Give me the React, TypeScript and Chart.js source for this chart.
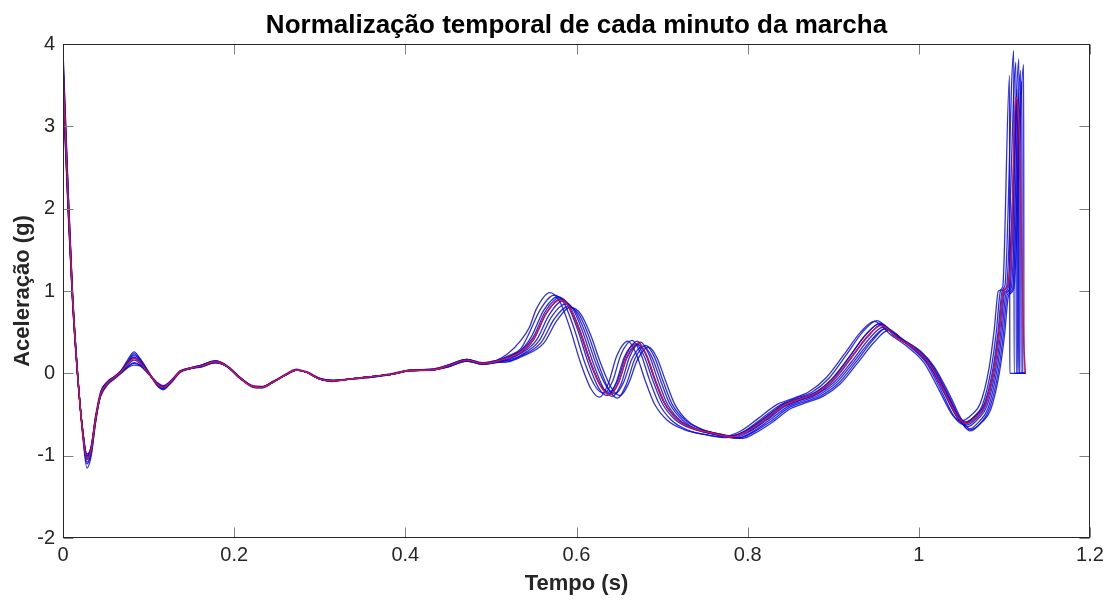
import { useEffect, useRef } from "react";
import { Chart, registerables } from "chart.js";

Chart.register(...registerables);

// Shared time base (s) for the first half of the stride, where all minutes nearly overlap
const tempoInicio = [
  0, 0.006, 0.011, 0.017, 0.023, 0.028, 0.033, 0.038, 0.044, 0.052, 0.06, 0.068, 0.076, 0.083,
  0.09, 0.1, 0.11, 0.117, 0.126, 0.137, 0.15, 0.162, 0.178, 0.192, 0.208, 0.222, 0.232, 0.245,
  0.26, 0.273, 0.285, 0.3, 0.315, 0.335, 0.36, 0.385, 0.405, 0.43, 0.45, 0.472, 0.49, 0.505,
];

// Acceleration (g) of each minute on tempoInicio
const inicioMinuto1 = [3.88, 2.2, 1.0, 0.02, -0.72, -1.08, -0.95, -0.58, -0.24, -0.1, -0.04, 0.04, 0.17, 0.26, 0.18, 0.02, -0.14, -0.19, -0.12, 0.01, 0.06, 0.1, 0.15, 0.09, -0.06, -0.16, -0.17, -0.11, -0.02, 0.04, 0.01, -0.07, -0.09, -0.07, -0.04, -0.01, 0.04, 0.04, 0.1, 0.17, 0.12, 0.15];
const inicioMinuto2 = [3.92, 2.25, 1.02, 0.0, -0.75, -1.15, -1.0, -0.6, -0.26, -0.11, -0.05, 0.03, 0.15, 0.24, 0.17, 0.01, -0.15, -0.2, -0.11, 0.02, 0.07, 0.1, 0.15, 0.08, -0.07, -0.17, -0.18, -0.11, -0.01, 0.05, 0.01, -0.07, -0.1, -0.07, -0.04, 0.0, 0.04, 0.05, 0.1, 0.17, 0.13, 0.15];
const inicioMinuto3 = [3.6, 2.05, 0.93, -0.02, -0.7, -1.0, -0.88, -0.52, -0.22, -0.11, -0.04, 0.02, 0.11, 0.16, 0.12, 0.0, -0.12, -0.16, -0.1, 0.02, 0.06, 0.09, 0.13, 0.08, -0.07, -0.16, -0.17, -0.1, -0.02, 0.04, 0.01, -0.07, -0.09, -0.07, -0.05, -0.01, 0.03, 0.04, 0.09, 0.16, 0.12, 0.14];
const inicioMinuto4 = [3.45, 1.95, 0.9, -0.03, -0.68, -0.98, -0.9, -0.56, -0.27, -0.13, -0.06, 0.01, 0.09, 0.13, 0.1, -0.01, -0.12, -0.16, -0.09, 0.03, 0.06, 0.08, 0.13, 0.08, -0.07, -0.16, -0.17, -0.11, -0.02, 0.04, 0.01, -0.06, -0.09, -0.07, -0.04, -0.01, 0.03, 0.04, 0.08, 0.15, 0.11, 0.13];
const inicioMinuto5 = [3.75, 2.15, 0.97, 0.01, -0.71, -1.05, -0.93, -0.57, -0.25, -0.12, -0.05, 0.02, 0.13, 0.2, 0.14, 0.01, -0.13, -0.18, -0.1, 0.02, 0.06, 0.09, 0.14, 0.08, -0.07, -0.16, -0.17, -0.11, -0.02, 0.04, 0.01, -0.07, -0.09, -0.07, -0.04, -0.01, 0.035, 0.04, 0.09, 0.16, 0.12, 0.14];
const inicioMinuto6 = [3.5, 2.0, 0.9, -0.02, -0.69, -1.0, -0.89, -0.54, -0.28, -0.14, -0.07, 0.0, 0.07, 0.1, 0.09, 0.0, -0.11, -0.15, -0.09, 0.03, 0.07, 0.09, 0.13, 0.08, -0.06, -0.15, -0.16, -0.1, -0.02, 0.04, 0.01, -0.06, -0.08, -0.07, -0.04, -0.01, 0.03, 0.04, 0.08, 0.15, 0.11, 0.13];
const inicioMinuto7 = [3.8, 2.18, 0.98, 0.0, -0.73, -1.1, -0.97, -0.6, -0.24, -0.1, -0.04, 0.03, 0.14, 0.22, 0.16, 0.01, -0.14, -0.19, -0.11, 0.02, 0.07, 0.1, 0.15, 0.09, -0.06, -0.16, -0.17, -0.11, -0.02, 0.04, 0.02, -0.06, -0.09, -0.07, -0.04, -0.01, 0.04, 0.05, 0.1, 0.17, 0.12, 0.15];
const inicioMinuto8 = [3.55, 2.02, 0.92, -0.03, -0.69, -1.01, -0.9, -0.55, -0.26, -0.13, -0.06, 0.01, 0.08, 0.12, 0.1, -0.01, -0.12, -0.16, -0.1, 0.02, 0.06, 0.08, 0.13, 0.08, -0.07, -0.16, -0.17, -0.1, -0.02, 0.04, 0.01, -0.07, -0.09, -0.07, -0.05, -0.01, 0.03, 0.04, 0.08, 0.15, 0.11, 0.13];
const inicioMinuto9 = [3.65, 2.08, 0.95, 0.0, -0.7, -1.03, -0.91, -0.55, -0.25, -0.12, -0.05, 0.02, 0.12, 0.19, 0.13, 0.0, -0.13, -0.17, -0.1, 0.02, 0.06, 0.09, 0.14, 0.08, -0.07, -0.16, -0.17, -0.11, -0.02, 0.04, 0.01, -0.07, -0.09, -0.07, -0.04, -0.01, 0.035, 0.04, 0.09, 0.16, 0.12, 0.14];
const inicioMedia = [3.68, 2.1, 0.96, -0.01, -0.71, -1.04, -0.92, -0.56, -0.25, -0.12, -0.05, 0.02, 0.12, 0.18, 0.13, 0.0, -0.13, -0.17, -0.1, 0.02, 0.065, 0.09, 0.14, 0.08, -0.07, -0.16, -0.17, -0.11, -0.02, 0.04, 0.01, -0.07, -0.09, -0.07, -0.04, -0.01, 0.035, 0.04, 0.09, 0.16, 0.12, 0.14];

// Second half of the stride: [time (s), acceleration (g)], each minute with its own timing,
// ending with the next heel strike and zero padding
const fimMinuto1: [number, number][] = [
  [0.52, 0.24], [0.535, 0.4], [0.545, 0.56], [0.553, 0.78], [0.569, 0.98], [0.581, 0.86], [0.592, 0.56], [0.605, 0.12], [0.617, -0.19], [0.627, -0.29], [0.637, -0.13], [0.647, 0.21], [0.66, 0.39], [0.67, 0.23], [0.68, -0.08], [0.691, -0.37], [0.706, -0.57], [0.725, -0.68], [0.748, -0.74], [0.77, -0.77],
  [0.792, -0.7], [0.812, -0.55], [0.834, -0.38], [0.854, -0.3], [0.872, -0.22], [0.892, -0.05], [0.912, 0.22], [0.932, 0.5], [0.948, 0.63], [0.967, 0.47], [0.987, 0.32],
  [1.006, 0.13], [1.024, -0.21], [1.039, -0.5], [1.049, -0.58], [1.062, -0.5], [1.072, -0.36], [1.082, 0.06], [1.088, 0.52], [1.093, 1.0], [1.098, 1.05], [1.106, 3.62], [1.1063, 0], [1.1245, 0],
];
const fimMinuto2: [number, number][] = [
  [0.52, 0.21], [0.535, 0.3], [0.543, 0.45], [0.558, 0.78], [0.574, 0.95], [0.586, 0.84], [0.597, 0.55], [0.61, 0.12], [0.622, -0.16], [0.632, -0.24], [0.642, -0.1], [0.652, 0.23], [0.665, 0.4], [0.675, 0.24], [0.685, -0.07], [0.696, -0.36], [0.711, -0.57], [0.73, -0.69], [0.753, -0.75], [0.775, -0.78],
  [0.795, -0.71], [0.815, -0.56], [0.837, -0.39], [0.857, -0.3], [0.875, -0.23], [0.895, -0.06], [0.915, 0.22], [0.935, 0.51], [0.951, 0.64], [0.97, 0.47], [0.99, 0.32],
  [1.0085, 0.13], [1.0265, -0.22], [1.0415, -0.53], [1.0515, -0.62], [1.0645, -0.53], [1.0745, -0.38], [1.0845, 0.05], [1.0905, 0.5], [1.0955, 1.0], [1.1005, 1.06], [1.111, 3.92], [1.1113, 0], [1.1245, 0],
];
const fimMinuto3: [number, number][] = [
  [0.52, 0.2], [0.535, 0.28], [0.547, 0.44], [0.562, 0.77], [0.578, 0.93], [0.59, 0.82], [0.601, 0.54], [0.614, 0.12], [0.626, -0.18], [0.636, -0.27], [0.646, -0.12], [0.656, 0.2], [0.669, 0.36], [0.679, 0.21], [0.689, -0.08], [0.7, -0.36], [0.715, -0.56], [0.734, -0.67], [0.757, -0.73], [0.779, -0.76],
  [0.798, -0.7], [0.818, -0.56], [0.84, -0.39], [0.86, -0.31], [0.878, -0.24], [0.898, -0.07], [0.918, 0.19], [0.938, 0.47], [0.954, 0.6], [0.973, 0.45], [0.993, 0.31],
  [1.0105, 0.12], [1.0285, -0.22], [1.0435, -0.51], [1.0535, -0.6], [1.0665, -0.51], [1.0765, -0.37], [1.0865, 0.05], [1.0925, 0.5], [1.0975, 1.0], [1.1025, 1.05], [1.1135, 3.78], [1.1138, 0], [1.1245, 0],
];
const fimMinuto4: [number, number][] = [
  [0.52, 0.18], [0.535, 0.25], [0.55, 0.41], [0.565, 0.73], [0.581, 0.9], [0.593, 0.79], [0.604, 0.52], [0.617, 0.12], [0.629, -0.16], [0.639, -0.25], [0.649, -0.11], [0.659, 0.19], [0.672, 0.35], [0.682, 0.21], [0.692, -0.08], [0.703, -0.36], [0.718, -0.56], [0.737, -0.67], [0.76, -0.74], [0.782, -0.77],
  [0.8, -0.71], [0.82, -0.57], [0.842, -0.4], [0.862, -0.32], [0.88, -0.25], [0.9, -0.09], [0.92, 0.17], [0.94, 0.44], [0.956, 0.59], [0.975, 0.44], [0.995, 0.3],
  [1.012, 0.11], [1.03, -0.23], [1.045, -0.54], [1.055, -0.63], [1.068, -0.54], [1.078, -0.39], [1.088, 0.04], [1.094, 0.5], [1.099, 0.98], [1.105, 1.05], [1.115, 3.45], [1.1153, 0], [1.1245, 0],
];
const fimMinuto5: [number, number][] = [
  [0.52, 0.17], [0.535, 0.24], [0.553, 0.4], [0.568, 0.71], [0.584, 0.88], [0.596, 0.78], [0.607, 0.51], [0.62, 0.11], [0.632, -0.19], [0.642, -0.28], [0.652, -0.13], [0.662, 0.2], [0.675, 0.38], [0.685, 0.22], [0.695, -0.08], [0.706, -0.37], [0.721, -0.57], [0.74, -0.68], [0.763, -0.74], [0.785, -0.78],
  [0.802, -0.71], [0.822, -0.57], [0.844, -0.4], [0.864, -0.32], [0.882, -0.25], [0.902, -0.1], [0.922, 0.15], [0.942, 0.42], [0.958, 0.56], [0.977, 0.42], [0.997, 0.28],
  [1.0135, 0.1], [1.0315, -0.24], [1.0465, -0.55], [1.0565, -0.65], [1.0695, -0.55], [1.0795, -0.4], [1.0895, 0.03], [1.0955, 0.48], [1.1005, 0.98], [1.1065, 1.04], [1.117, 3.82], [1.1173, 0], [1.1245, 0],
];
const fimMinuto6: [number, number][] = [
  [0.52, 0.16], [0.535, 0.22], [0.556, 0.39], [0.571, 0.69], [0.587, 0.84], [0.599, 0.75], [0.61, 0.5], [0.623, 0.11], [0.635, -0.16], [0.645, -0.25], [0.655, -0.11], [0.665, 0.18], [0.678, 0.33], [0.688, 0.2], [0.698, -0.08], [0.709, -0.37], [0.724, -0.57], [0.743, -0.69], [0.766, -0.75], [0.788, -0.79],
  [0.804, -0.72], [0.824, -0.58], [0.846, -0.41], [0.866, -0.33], [0.884, -0.26], [0.904, -0.11], [0.924, 0.14], [0.944, 0.4], [0.96, 0.54], [0.979, 0.41], [0.999, 0.27],
  [1.015, 0.09], [1.033, -0.25], [1.048, -0.57], [1.058, -0.68], [1.071, -0.58], [1.081, -0.42], [1.091, 0.02], [1.097, 0.47], [1.102, 0.97], [1.108, 1.04], [1.119, 3.68], [1.1193, 0], [1.1245, 0],
];
const fimMinuto7: [number, number][] = [
  [0.52, 0.15], [0.535, 0.21], [0.559, 0.38], [0.574, 0.66], [0.59, 0.81], [0.602, 0.73], [0.613, 0.49], [0.626, 0.1], [0.638, -0.2], [0.648, -0.3], [0.658, -0.14], [0.668, 0.17], [0.681, 0.34], [0.691, 0.2], [0.701, -0.09], [0.712, -0.38], [0.727, -0.57], [0.746, -0.68], [0.769, -0.74], [0.791, -0.78],
  [0.806, -0.72], [0.826, -0.59], [0.848, -0.42], [0.868, -0.34], [0.886, -0.27], [0.906, -0.12], [0.926, 0.13], [0.946, 0.4], [0.962, 0.55], [0.981, 0.41], [1.001, 0.27],
  [1.0165, 0.09], [1.0345, -0.26], [1.0495, -0.58], [1.0595, -0.7], [1.0725, -0.6], [1.0825, -0.43], [1.0925, 0.0], [1.0985, 0.45], [1.1035, 0.96], [1.1095, 1.03], [1.1205, 3.55], [1.1208, 0], [1.1245, 0],
];
const fimMinuto8: [number, number][] = [
  [0.52, 0.14], [0.535, 0.2], [0.562, 0.37], [0.577, 0.64], [0.593, 0.8], [0.605, 0.72], [0.616, 0.48], [0.629, 0.1], [0.641, -0.18], [0.651, -0.27], [0.661, -0.12], [0.671, 0.16], [0.684, 0.32], [0.694, 0.19], [0.704, -0.09], [0.715, -0.38], [0.73, -0.58], [0.749, -0.69], [0.772, -0.75], [0.794, -0.79],
  [0.808, -0.73], [0.828, -0.6], [0.85, -0.43], [0.87, -0.35], [0.888, -0.28], [0.908, -0.13], [0.928, 0.12], [0.948, 0.38], [0.964, 0.52], [0.983, 0.4], [1.003, 0.26],
  [1.018, 0.08], [1.036, -0.26], [1.051, -0.58], [1.061, -0.68], [1.074, -0.59], [1.084, -0.44], [1.094, 0.0], [1.1, 0.45], [1.105, 0.95], [1.111, 1.03], [1.1225, 3.75], [1.1228, 0], [1.1245, 0],
];
const fimMinuto9: [number, number][] = [
  [0.52, 0.2], [0.535, 0.27], [0.549, 0.43], [0.564, 0.76], [0.58, 0.92], [0.592, 0.81], [0.603, 0.53], [0.616, 0.13], [0.628, -0.15], [0.638, -0.23], [0.648, -0.09], [0.658, 0.22], [0.671, 0.39], [0.681, 0.23], [0.691, -0.07], [0.702, -0.35], [0.717, -0.55], [0.736, -0.66], [0.759, -0.72], [0.781, -0.76],
  [0.799, -0.69], [0.819, -0.55], [0.841, -0.38], [0.861, -0.3], [0.879, -0.23], [0.899, -0.07], [0.919, 0.2], [0.939, 0.48], [0.955, 0.61], [0.974, 0.45], [0.994, 0.31],
  [1.012, 0.13], [1.03, -0.21], [1.045, -0.5], [1.055, -0.59], [1.068, -0.5], [1.078, -0.36], [1.088, 0.06], [1.094, 0.52], [1.099, 1.0], [1.104, 1.07], [1.1165, 3.35], [1.1168, 0], [1.1245, 0],
];
const fimMedia: [number, number][] = [
  [0.52, 0.19], [0.535, 0.26], [0.55, 0.42], [0.565, 0.74], [0.581, 0.89], [0.593, 0.78], [0.604, 0.52], [0.617, 0.12], [0.629, -0.17], [0.639, -0.26], [0.649, -0.12], [0.659, 0.2], [0.672, 0.37], [0.682, 0.22], [0.692, -0.08], [0.703, -0.36], [0.718, -0.56], [0.737, -0.67], [0.76, -0.73], [0.782, -0.77],
  [0.8, -0.7], [0.82, -0.56], [0.842, -0.39], [0.862, -0.31], [0.88, -0.24], [0.9, -0.08], [0.92, 0.18], [0.94, 0.45], [0.956, 0.58], [0.975, 0.43], [0.995, 0.3],
  [1.012, 0.12], [1.03, -0.22], [1.045, -0.52], [1.055, -0.61], [1.068, -0.52], [1.078, -0.38], [1.088, 0.05], [1.094, 0.5], [1.099, 1.0], [1.104, 1.06], [1.108, 1.5], [1.113, 3.35], [1.117, 3.0], [1.12, 1.6], [1.1225, 0.4], [1.1245, 0],
];

const minutos: [number[], [number, number][]][] = [
  [inicioMinuto1, fimMinuto1],
  [inicioMinuto2, fimMinuto2],
  [inicioMinuto3, fimMinuto3],
  [inicioMinuto4, fimMinuto4],
  [inicioMinuto5, fimMinuto5],
  [inicioMinuto6, fimMinuto6],
  [inicioMinuto7, fimMinuto7],
  [inicioMinuto8, fimMinuto8],
  [inicioMinuto9, fimMinuto9],
];

const ticksTempo = [0, 0.2, 0.4, 0.6, 0.8, 1, 1.2];
const ticksAceleracao = [-2, -1, 0, 1, 2, 3, 4];

const TITULO = "Normalização temporal de cada minuto da marcha";
const FONTE = "'Liberation Sans', Arial, Helvetica, sans-serif";
const COR_EIXO = "#262626";

function serie(inicio: number[], fim: [number, number][]) {
  return [
    ...inicio.map((y, i) => ({ x: tempoInicio[i], y })),
    ...fim.map(([x, y]) => ({ x, y })),
  ];
}

// Box around the axes with inward tick marks on all four sides,
// plus the title centred over the plotting area
const caixaEixos = {
  id: "caixaEixos",
  afterDraw(chart: any) {
    const { ctx, chartArea, scales } = chart;
    const l = Math.round(chartArea.left) + 0.5;
    const r = Math.round(chartArea.right) - 0.5;
    const t = Math.round(chartArea.top) + 0.5;
    const b = Math.round(chartArea.bottom) - 0.5;
    const len = 10;
    ctx.save();
    ctx.lineWidth = 1;
    ctx.strokeStyle = "#808080";
    ctx.beginPath();
    for (const v of ticksTempo) {
      const px = Math.round(scales.x.getPixelForValue(v)) + 0.5;
      ctx.moveTo(px, b);
      ctx.lineTo(px, b - len);
      ctx.moveTo(px, t);
      ctx.lineTo(px, t + len);
    }
    for (const v of ticksAceleracao) {
      const py = Math.round(scales.y.getPixelForValue(v)) + 0.5;
      ctx.moveTo(l, py);
      ctx.lineTo(l + len, py);
      ctx.moveTo(r, py);
      ctx.lineTo(r - len, py);
    }
    ctx.stroke();
    ctx.strokeStyle = COR_EIXO;
    ctx.strokeRect(l, t, r - l, b - t);

    ctx.fillStyle = "#000";
    ctx.font = `bold 26px ${FONTE}`;
    ctx.textAlign = "center";
    ctx.textBaseline = "alphabetic";
    ctx.fillText(TITULO, (chartArea.left + chartArea.right) / 2, 33);
    ctx.restore();
  },
};

export default function App() {
  const canvasRef = useRef<HTMLCanvasElement | null>(null);

  useEffect(() => {
    if (!canvasRef.current) return;

    const azuis = minutos.map(([inicio, fim], i) => ({
      label: `Minuto ${i + 1}`,
      data: serie(inicio, fim),
      borderColor: "rgba(10, 10, 215, 0.85)",
      borderWidth: 1.3,
      pointRadius: 0,
      cubicInterpolationMode: "monotone" as const,
      order: 1,
    }));

    const media = {
      label: "Média",
      data: serie(inicioMedia, fimMedia),
      borderColor: "rgb(215, 20, 60)",
      borderWidth: 1.4,
      pointRadius: 0,
      cubicInterpolationMode: "monotone" as const,
      order: 0,
    };

    const chart = new Chart(canvasRef.current, {
      type: "line",
      data: { datasets: [media, ...azuis] },
      options: {
        animation: false,
        responsive: false,
        devicePixelRatio: 1,
        layout: { padding: { left: 0, right: 20, top: 44, bottom: 0 } },
        plugins: {
          legend: { display: false },
          tooltip: { enabled: false },
          title: { display: false },
        },
        scales: {
          x: {
            type: "linear",
            min: 0,
            max: 1.2,
            afterFit: (s: any) => {
              s.height = 65;
            },
            afterBuildTicks: (s: any) => {
              s.ticks = ticksTempo.map((value) => ({ value }));
            },
            grid: { display: false, drawTicks: false },
            border: { display: false },
            ticks: {
              padding: 5,
              color: COR_EIXO,
              font: { family: FONTE, size: 20 },
              callback: (v: any) => String(Number(Number(v).toFixed(1))),
            },
            title: {
              display: true,
              text: "Tempo (s)",
              color: COR_EIXO,
              font: { family: FONTE, size: 22, weight: "bold" },
              padding: { top: 0, bottom: 6 },
            },
          },
          y: {
            type: "linear",
            min: -2,
            max: 4,
            afterFit: (s: any) => {
              s.width = 63;
            },
            afterBuildTicks: (s: any) => {
              s.ticks = ticksAceleracao.map((value) => ({ value }));
            },
            grid: { display: false, drawTicks: false },
            border: { display: false },
            ticks: {
              padding: 8,
              color: COR_EIXO,
              font: { family: FONTE, size: 20 },
              callback: (v: any) => String(v),
            },
            title: {
              display: true,
              text: "Aceleração (g)",
              color: COR_EIXO,
              font: { family: FONTE, size: 22, weight: "bold" },
              padding: { top: 10, bottom: 0 },
            },
          },
        },
      },
      plugins: [caixaEixos],
    });

    return () => chart.destroy();
  }, []);

  return (
    <div style={{ position: "fixed", left: 0, top: 0, width: 1110, height: 603, background: "#fff" }}>
      <canvas ref={canvasRef} width={1110} height={603} />
    </div>
  );
}
